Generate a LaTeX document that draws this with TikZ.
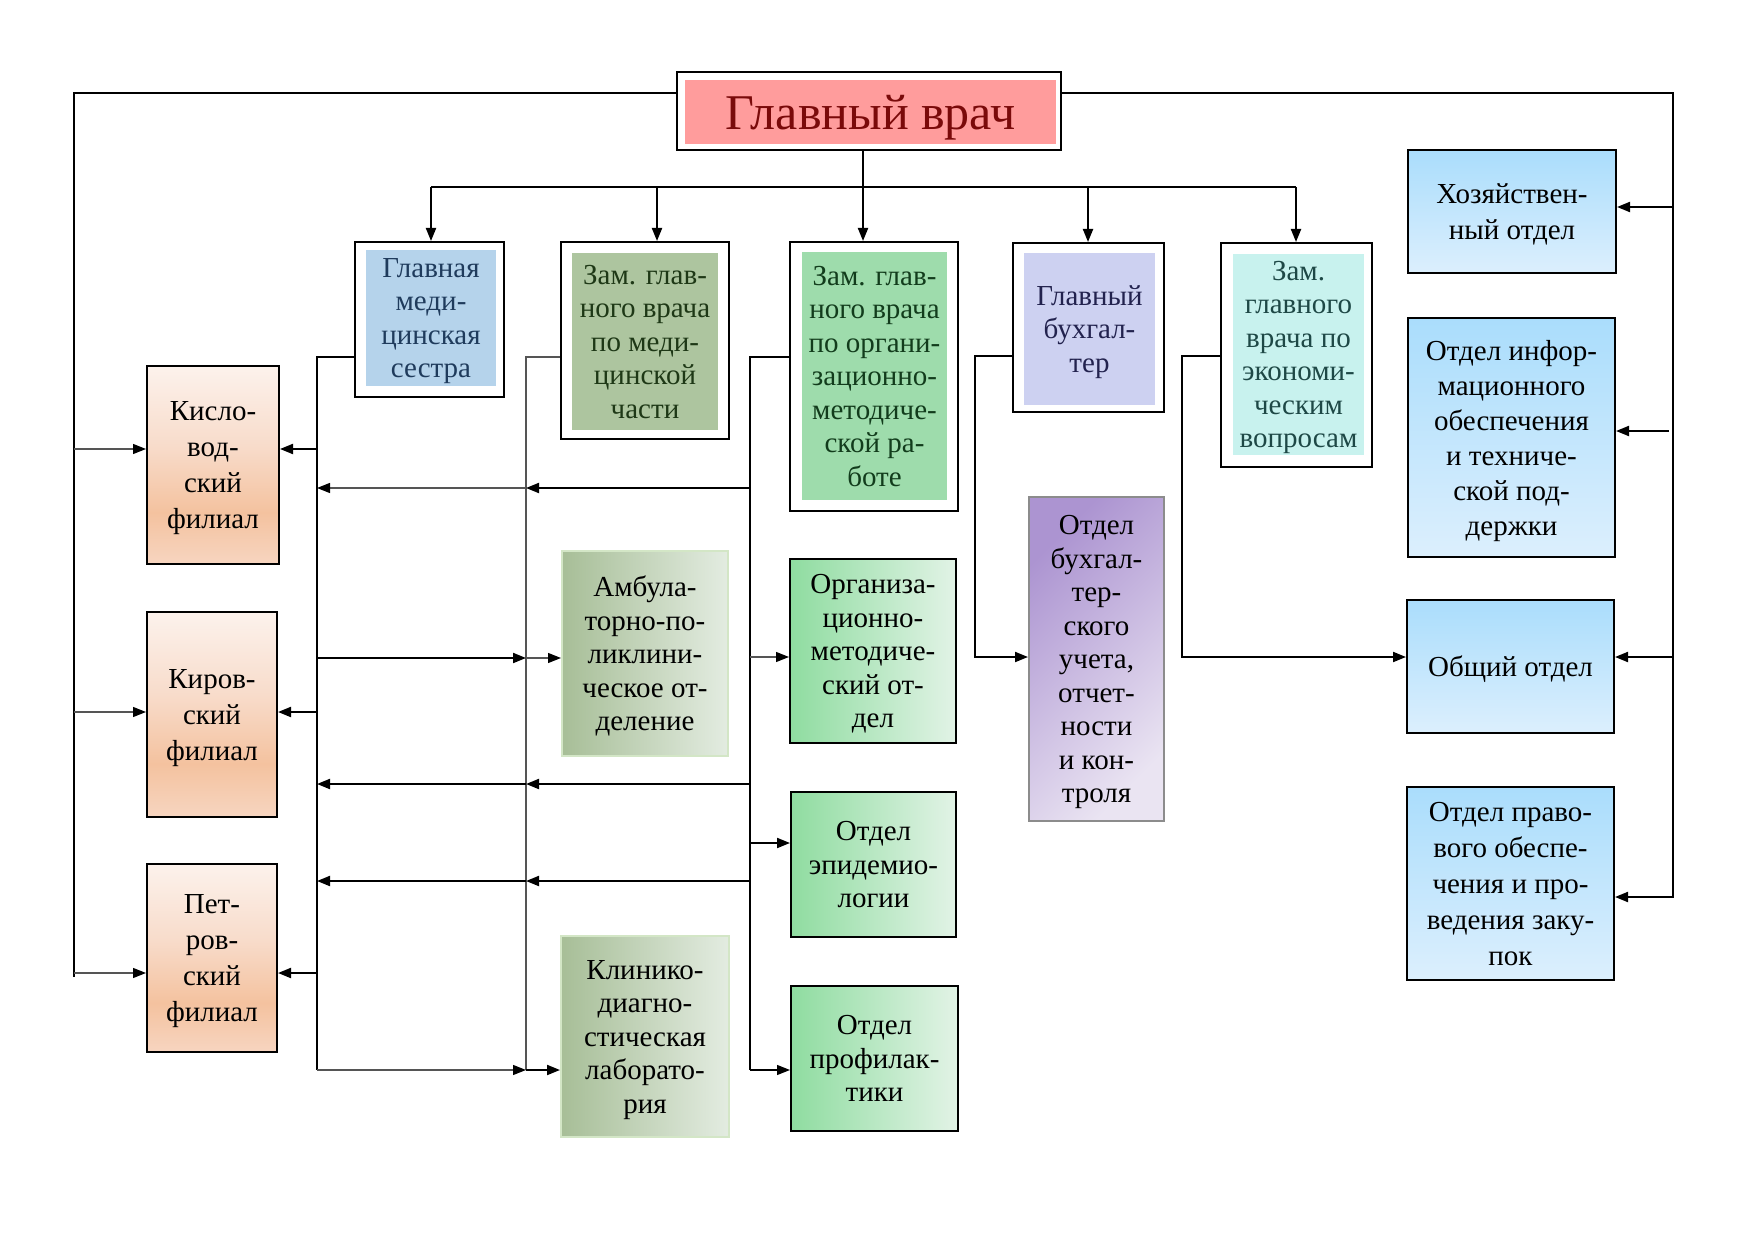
\documentclass[tikz,border=0pt]{standalone}
\usepackage{fontspec}
\setmainfont{Liberation Serif}
\usetikzlibrary{arrows.meta}
\definecolor{titleC}{HTML}{FF9C9C}
\definecolor{titleT}{HTML}{7A0A0A}
\definecolor{gmsC}{HTML}{B5D3EB}
\definecolor{gmsT}{HTML}{1F3B5C}
\definecolor{zmedC}{HTML}{ADC59F}
\definecolor{zmedT}{HTML}{1E3816}
\definecolor{zorgC}{HTML}{9EDCAC}
\definecolor{zorgT}{HTML}{123C1C}
\definecolor{gbC}{HTML}{CDD1F1}
\definecolor{gbT}{HTML}{22224E}
\definecolor{zecC}{HTML}{C8F2EE}
\definecolor{zecT}{HTML}{1E4846}
\definecolor{blueT}{HTML}{AADDFC}
\definecolor{blueB}{HTML}{DCEFFD}
\definecolor{sageL}{HTML}{A7BE97}
\definecolor{sageR}{HTML}{E3ECE1}
\definecolor{sageD}{HTML}{D3E6C6}
\definecolor{grnL}{HTML}{8FDCA0}
\definecolor{grnR}{HTML}{E2F3E6}
\definecolor{purT}{HTML}{AC94D1}
\definecolor{purB}{HTML}{EAE4F2}
\definecolor{purD}{HTML}{8C8C8C}
\definecolor{lineG}{HTML}{555555}
\definecolor{orT}{HTML}{FCF2EC}
\definecolor{orM}{HTML}{F4C29F}
\definecolor{orB}{HTML}{F7D5C0}
\definecolor{orQ}{HTML}{F8DCCB}
\pgfdeclareverticalshading{orsh}{100bp}{color(0bp)=(orB); color(25bp)=(orB); color(38bp)=(orM); color(55bp)=(orQ); color(75bp)=(orT); color(100bp)=(orT)}
\newcommand{\bxfont}{\fontsize{29}{33.5}\selectfont}
\newcommand{\bxfontb}{\fontsize{29}{36}\selectfont}
\begin{document}
\begin{tikzpicture}[x=1pt,y=-1pt,
  frame/.style={draw=black, line width=2pt, fill=white, inner sep=0pt, rectangle},
  inbox/.style={inner sep=0pt, align=center, font=\bxfont, text depth=0pt, rectangle},
  bluebox/.style={draw=black, line width=2pt, top color=blueT, bottom color=blueB, inner sep=0pt, align=center, font=\bxfontb, text depth=0pt, rectangle},
  orbox/.style={draw=black, line width=2pt, shading=orsh, shade, inner sep=0pt, align=center, font=\bxfontb, text depth=0pt, rectangle},
  sagebox/.style={draw=sageD, line width=2pt, left color=sageL, right color=sageR, inner sep=0pt, align=center, font=\bxfont, text depth=0pt, rectangle},
  grnbox/.style={draw=black, line width=2pt, left color=grnL, right color=grnR, inner sep=0pt, align=center, font=\bxfont, text depth=0pt, rectangle},
  purbox/.style={draw=purD, line width=2pt, top color=purT, bottom color=purB, shading angle=45, inner sep=0pt, align=center, font=\bxfont, text depth=0pt, rectangle},
  thk/.style={line width=2pt, draw=black},
  thn/.style={line width=1.3pt, draw=lineG},
  thkarr/.style={thk, -{Triangle[length=13pt,width=10pt]}},
  thnarr/.style={thn, -{Triangle[length=13pt,width=10pt,color=black]}}]
\useasboundingbox (0,0) rectangle (1755,1241);
% ---- title
\node[frame, minimum width=384pt, minimum height=78pt] (title) at (869,111) {};
\node[inbox, fill=titleC, minimum width=371pt, minimum height=64pt, text=titleT, font=\fontsize{50}{58}\selectfont] (titleIn) at (870.5,112) {Главный врач};
% ---- second level (double frames)
\node[frame, minimum width=149pt, minimum height=155pt] (gms) at (429.5,319.5) {};
\node[inbox, fill=gmsC, text=gmsT, minimum width=130pt, minimum height=136pt] (gmsIn) at (431,318) {Главная\\меди-\\цинская\\сестра};
\node[frame, minimum width=168pt, minimum height=197pt] (zmed) at (645,340.5) {};
\node[inbox, fill=zmedC, text=zmedT, minimum width=146pt, minimum height=177pt] (zmedIn) at (645,341.5) {Зам. глав-\\ного врача\\по меди-\\цинской\\части};
\node[frame, minimum width=168pt, minimum height=269pt] (zorg) at (874,376.5) {};
\node[inbox, fill=zorgC, text=zorgT, minimum width=145pt, minimum height=248pt] (zorgIn) at (874.5,376) {Зам. глав-\\ного врача\\по органи-\\зационно-\\методиче-\\ской ра-\\боте};
\node[frame, minimum width=151pt, minimum height=169pt] (gb) at (1088.5,327.5) {};
\node[inbox, fill=gbC, text=gbT, minimum width=131pt, minimum height=152pt] (gbIn) at (1089.5,329) {Главный\\бухгал-\\тер};
\node[frame, minimum width=151pt, minimum height=224pt] (zec) at (1296.5,355) {};
\node[inbox, fill=zecC, text=zecT, minimum width=131pt, minimum height=201pt] (zecIn) at (1298.5,354.5) {Зам.\\главного\\врача по\\экономи-\\ческим\\вопросам};
% ---- right column
\node[bluebox, minimum width=208pt, minimum height=123pt] (khoz) at (1512,211.5) {Хозяйствен-\\ный отдел};
\node[bluebox, minimum width=207pt, minimum height=239pt, font=\fontsize{29}{35}\selectfont] (info) at (1511.5,437.5) {Отдел инфор-\\мационного\\обеспечения\\и техниче-\\ской под-\\держки};
\node[bluebox, minimum width=207pt, minimum height=133pt] (obsh) at (1510.5,666.5) {Общий отдел};
\node[bluebox, minimum width=207pt, minimum height=193pt] (pravo) at (1510.5,883.5) {Отдел право-\\вого обеспе-\\чения и про-\\ведения заку-\\пок};
\node[purbox, minimum width=135pt, minimum height=324pt] (obuh) at (1096.5,659) {Отдел\\бухгал-\\тер-\\ского\\учета,\\отчет-\\ности\\и кон-\\троля};
% ---- branches
\node[orbox, minimum width=132pt, minimum height=198pt] (kis) at (213,465) {Кисло-\\вод-\\ский\\филиал};
\node[orbox, minimum width=130pt, minimum height=205pt] (kir) at (212,714.5) {Киров-\\ский\\филиал};
\node[orbox, minimum width=130pt, minimum height=188pt] (pet) at (212,958) {Пет-\\ров-\\ский\\филиал};
% ---- middle departments
\node[sagebox, minimum width=166pt, minimum height=205pt] (amb) at (645,653.5) {Амбула-\\торно-по-\\ликлини-\\ческое от-\\деление};
\node[sagebox, minimum width=168pt, minimum height=201pt] (kld) at (645,1036.5) {Клинико-\\диагно-\\стическая\\лаборато-\\рия};
\node[grnbox, minimum width=166pt, minimum height=184pt] (org) at (873,651) {Организа-\\ционно-\\методиче-\\ский от-\\дел};
\node[grnbox, minimum width=165pt, minimum height=145pt] (epi) at (873.5,864.5) {Отдел\\эпидемио-\\логии};
\node[grnbox, minimum width=167pt, minimum height=145pt] (pro) at (874.5,1058.5) {Отдел\\профилак-\\тики};
% ---- coordinates
\coordinate (LT) at (74,93); \coordinate (LB) at (74,977);
\coordinate (RT) at (1673,93); \coordinate (RB) at (1673,897);
\coordinate (L1) at (74,449); \coordinate (L2) at (74,712); \coordinate (L3) at (74,973);
\coordinate (R1) at (1673,207); \coordinate (R2) at (1669,431); \coordinate (R3) at (1673,657);
\coordinate (T1) at (431,187); \coordinate (T2) at (657,187); \coordinate (T3) at (863,187);
\coordinate (T4) at (1088,187); \coordinate (T5) at (1296,187);
\coordinate (A0) at (317,357); \coordinate (A1) at (317,449); \coordinate (A2) at (317,488);
\coordinate (A3) at (317,658); \coordinate (A4) at (317,712); \coordinate (A5) at (317,784);
\coordinate (A6) at (317,881); \coordinate (A7) at (317,973); \coordinate (A8) at (317,1070);
\coordinate (B0) at (526,357); \coordinate (B2) at (526,488); \coordinate (B3) at (526,658);
\coordinate (B5) at (526,784); \coordinate (B6) at (526,881); \coordinate (B8) at (526,1070);
\coordinate (C0) at (750,357); \coordinate (C2) at (750,488); \coordinate (C3) at (750,657);
\coordinate (C5) at (750,784); \coordinate (C6) at (750,881); \coordinate (C7) at (750,843);
\coordinate (C8) at (750,1070);
\coordinate (D0) at (975,356); \coordinate (D1) at (975,657);
\coordinate (E0) at (1182,356); \coordinate (E1) at (1182,657);
% ---- outer loop
\draw[thk] (title.west |- LT) -- (LT) -- (LB);
\draw[thkarr] (title.east |- RT) -- (RT) -- (RB) -- (pravo.east |- RB);
\draw[thnarr] (L1) -- (kis.west |- L1);
\draw[thnarr] (L2) -- (kir.west |- L2);
\draw[thnarr] (L3) -- (pet.west |- L3);
\draw[thkarr] (R1) -- (khoz.east |- R1);
\draw[thkarr] (R2) -- (info.east |- R2);
\draw[thkarr] (R3) -- (obsh.east |- R3);
% ---- bus
\draw[thk] (title.south -| T3) -- (T3);
\draw[thk] (T1) -- (T5);
\draw[thkarr] (T1) -- (gms.north -| T1);
\draw[thkarr] (T2) -- (zmed.north -| T2);
\draw[thkarr] (T3) -- (zorg.north -| T3);
\draw[thkarr] (T4) -- (gb.north -| T4);
\draw[thkarr] (T5) -- (zec.north -| T5);
% ---- branch lines
\draw[thk] (gms.west |- A0) -- (A0) -- (A8);
\draw[thn] (zmed.west |- B0) -- (B0) -- (B8);
\draw[thk] (zorg.west |- C0) -- (C0) -- (C8);
\draw[thkarr] (gb.west |- D0) -- (D0) -- (D1) -- (obuh.west |- D1);
\draw[thkarr] (zec.west |- E0) -- (E0) -- (E1) -- (obsh.west |- E1);
% ---- arrows to branches
\draw[thkarr] (A1) -- (kis.east |- A1);
\draw[thkarr] (A4) -- (kir.east |- A4);
\draw[thkarr] (A7) -- (pet.east |- A7);
% ---- horizontal links
\draw[thkarr] (C2) -- (B2);
\draw[thnarr] (B2) -- (A2);
\draw[thkarr] (A3) -- (B3);
\draw[thnarr] (B3) -- (amb.west |- B3);
\draw[thnarr] (C3) -- (org.west |- C3);
\draw[thkarr] (C5) -- (B5);
\draw[thkarr] (B5) -- (A5);
\draw[thkarr] (C6) -- (B6);
\draw[thkarr] (B6) -- (A6);
\draw[thkarr] (C7) -- (epi.west |- C7);
\draw[thnarr] (A8) -- (B8);
\draw[thkarr] (B8) -- (kld.west |- B8);
\draw[thnarr, draw=black] (C8) -- (pro.west |- C8);
\end{tikzpicture}
\end{document}
